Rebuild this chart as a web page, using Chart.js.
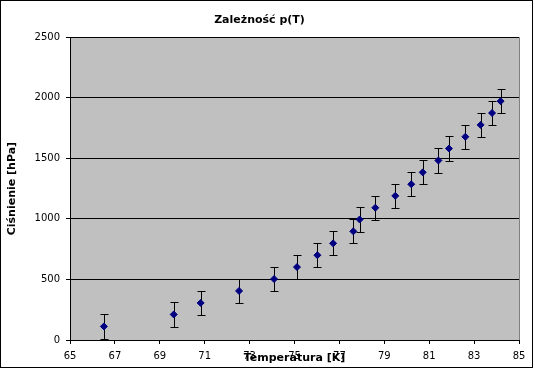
<!DOCTYPE html>
<html><head><meta charset="utf-8">
<script src="https://cdn.jsdelivr.net/npm/chart.js@4.4.1/dist/chart.umd.min.js"></script>
<style>html,body{margin:0;padding:0;background:#fff;}#wrap{width:535px;height:369px;}</style>
</head><body><div id="wrap"><canvas id="c" width="535" height="369"></canvas></div>
<script>
const temperatures = [66.51, 69.62, 70.82, 72.53, 74.09, 75.11, 76.02, 76.72, 77.62, 77.90,
                      78.60, 79.49, 80.20, 80.71, 81.41, 81.88, 82.61, 83.29, 83.80, 84.18];
const pressures = [112, 211, 306, 405, 503, 602, 700, 798, 897, 995,
                   1092, 1190, 1286, 1384, 1482, 1581, 1678, 1776, 1874, 1972];
const pressureErrors = [100, 100, 100, 100, 100, 100, 100, 100, 100, 100,
                        100, 100, 100, 100, 100, 100, 100, 100, 100, 100];
const xTickValues = [65, 67, 69, 71, 73, 75, 77, 79, 81, 83, 85];
const yTickValues = [0, 500, 1000, 1500, 2000, 2500];
const chartTitle = 'Zależność p(T)';
const xTitle = 'Temperatura [K]';
const yTitle = 'Ciśnienie [hPa]';

const FONT = 'DejaVu Sans';

const points = temperatures.map((t, i) => ({x: t, y: pressures[i]}));

const bgPlugin = {
  id: 'bg',
  beforeDraw(chart) {
    const {ctx, chartArea: a} = chart;
    ctx.save();
    ctx.fillStyle = '#ffffff';
    ctx.fillRect(0, 0, chart.width, chart.height);
    ctx.fillStyle = '#c0c0c0';
    ctx.fillRect(a.left, a.top, a.right - a.left, a.bottom - a.top);
    ctx.restore();
  },
  afterDraw(chart) {
    const {ctx, chartArea: a} = chart;
    ctx.save();
    ctx.strokeStyle = '#808080';
    ctx.lineWidth = 1;
    ctx.beginPath();
    ctx.moveTo(Math.round(a.right) + 0.5, a.top);
    ctx.lineTo(Math.round(a.right) + 0.5, a.bottom);
    ctx.stroke();
    ctx.strokeStyle = '#000000';
    ctx.strokeRect(0.5, 0.5, 532, 367);
    ctx.restore();
  }
};

const errorBarPlugin = {
  id: 'errorBars',
  beforeDatasetsDraw(chart) {
    const {ctx, scales: {x, y}} = chart;
    ctx.save();
    ctx.strokeStyle = '#000000';
    ctx.lineWidth = 1;
    temperatures.forEach((t, i) => {
      const px = Math.round(x.getPixelForValue(t)) + 0.5;
      const top = Math.round(y.getPixelForValue(pressures[i] + pressureErrors[i])) + 0.5;
      const bot = Math.round(y.getPixelForValue(pressures[i] - pressureErrors[i])) + 0.5;
      ctx.beginPath();
      ctx.moveTo(px, top); ctx.lineTo(px, bot);
      ctx.moveTo(px - 4, top); ctx.lineTo(px + 4, top);
      ctx.moveTo(px - 4, bot); ctx.lineTo(px + 4, bot);
      ctx.stroke();
    });
    ctx.restore();
  }
};

new Chart(document.getElementById('c'), {
  type: 'scatter',
  data: {
    datasets: [{
      data: points,
      pointStyle: 'rectRot',
      pointRadius: 3.5,
      borderWidth: 1,
      backgroundColor: '#000080',
      borderColor: '#000080'
    }]
  },
  options: {
    responsive: false,
    devicePixelRatio: 1,
    animation: false,
    layout: {padding: {left: 0, right: 16, top: 0, bottom: 0}},
    plugins: {
      legend: {display: false},
      tooltip: {enabled: false},
      title: {
        display: true,
        text: chartTitle,
        color: '#000',
        font: {family: FONT, size: 11, weight: 'bold'},
        padding: {top: 14, bottom: 10}
      }
    },
    scales: {
      x: {
        type: 'linear',
        min: 65, max: 85,
        afterBuildTicks: s => { s.ticks = xTickValues.map(v => ({value: v})); },
        afterFit: s => { s.height = 29; },
        ticks: {color: '#000', font: {family: FONT, size: 10}, padding: 6, maxRotation: 0, autoSkip: false,
                callback: v => String(v)},
        grid: {drawOnChartArea: false, drawTicks: true, tickLength: 4, tickColor: '#000', color: '#000'},
        border: {display: true, color: '#000'},
        title: {display: true, text: xTitle, color: '#000', font: {family: FONT, size: 11, weight: 'bold'}, padding: {top: 0, bottom: 4}}
      },
      y: {
        type: 'linear',
        min: 0, max: 2500,
        afterBuildTicks: s => { s.ticks = yTickValues.map(v => ({value: v})); },
        afterFit: s => { s.width = 70; },
        ticks: {color: '#000', font: {family: FONT, size: 10}, padding: 6, callback: v => String(v)},
        grid: {drawOnChartArea: true, drawTicks: true, tickLength: 4, tickColor: '#000', color: '#000'},
        border: {display: true, color: '#000'},
        title: {display: true, text: yTitle, color: '#000', font: {family: FONT, size: 11, weight: 'bold'}, padding: {top: 6, bottom: 0}}
      }
    }
  },
  plugins: [bgPlugin, errorBarPlugin]
});
</script>
</body></html>
